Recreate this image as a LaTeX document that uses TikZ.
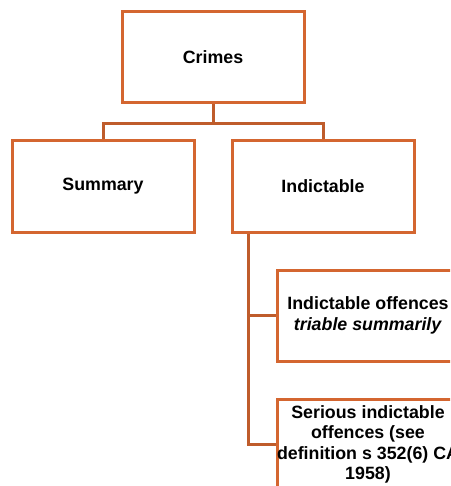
\documentclass[tikz,border=0pt]{standalone}
\usepackage{fontspec}
\setmainfont{Liberation Sans}
\definecolor{rust}{RGB}{212,102,48}
\begin{document}
\begin{tikzpicture}[x=1pt,y=-1pt,line width=3pt,
  box/.style={draw=rust,rectangle,minimum width=182pt,minimum height=91pt,align=center,
    font=\fontsize{17.8}{20.5}\selectfont\bfseries,inner sep=0pt},
  link/.style={draw=rust!90!black}]
\useasboundingbox (0,0) rectangle (450,486);
\clip (0,0) rectangle (450,486);
\node[box] (crimes) at (213,57.5) {Crimes};
\node[box] (summary) at (103,186.5) {Summary};
\node[box] (indictable) at (323,186.5) {Indictable};
\node[box] (triable) at (368,315.5) {Indictable offences\\\textit{triable summarily}};
\node[box] (serious) at (368,444.5) {Serious indictable\\offences (see\\definition s 352(6) CA\\1958)};
\draw[link] (crimes.south) -- ++(0,19) coordinate (split);
\draw[link] (split) -| (summary.north) (split) -| (indictable.north);
\draw[link] ([xshift=18pt]indictable.south west) coordinate (stem) |- (triable.west);
\draw[link] (stem) |- (serious.west);
\end{tikzpicture}
\end{document}
